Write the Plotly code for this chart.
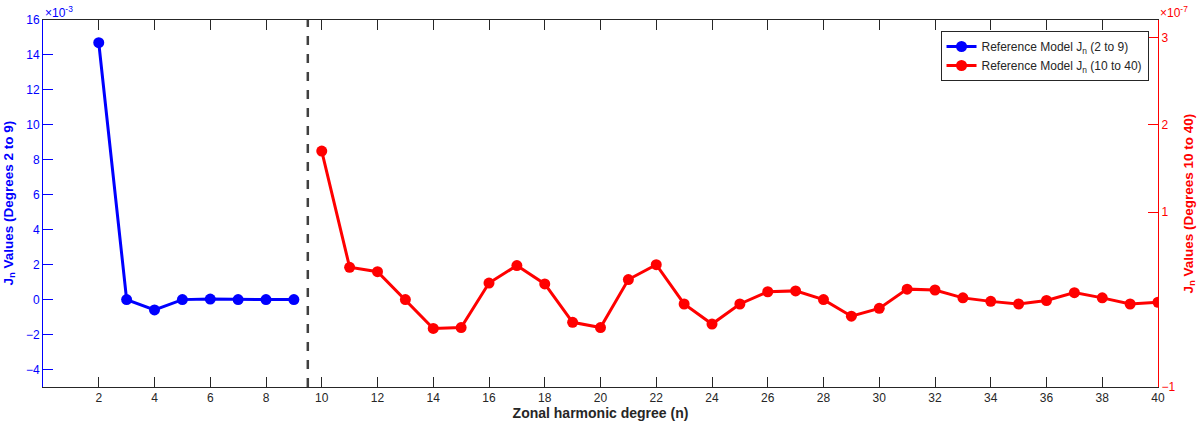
import plotly.graph_objects as go

# zonal harmonic degrees and coefficients
deg_low = [2, 3, 4, 5, 6, 7, 8, 9]
jn_low = [14.70, 0.0, -0.59, 0.0, 0.03, 0.0, 0.0, 0.0]  # x 1e-3

deg_high = list(range(10, 41))
jn_high = [1.70, 0.37, 0.32, 0.0, -0.33, -0.32, 0.19, 0.39, 0.18, -0.26,
           -0.32, 0.23, 0.40, -0.05, -0.28, -0.05, 0.09, 0.10, 0.0, -0.19,
           -0.10, 0.12, 0.11, 0.02, -0.02, -0.05, -0.01, 0.08, 0.02, -0.05,
           -0.03]  # x 1e-7

x_ticks = list(range(2, 41, 2))
left_ticks = list(range(-4, 17, 2))
right_ticks = [-1, 1, 2, 3]

BLUE = "#0000ff"
RED = "#ff0000"
GRAY = "#262626"
FONT = "Liberation Sans, Arial, sans-serif"

fig = go.Figure()

fig.add_trace(go.Scatter(
    x=deg_low, y=jn_low, mode="lines+markers",
    name="Reference Model J<sub>n</sub> (2 to 9)",
    line=dict(color=BLUE, width=3),
    marker=dict(color=BLUE, size=11),
    yaxis="y"
))

fig.add_trace(go.Scatter(
    x=deg_high, y=jn_high, mode="lines+markers",
    name="Reference Model J<sub>n</sub> (10 to 40)",
    line=dict(color=RED, width=3),
    marker=dict(color=RED, size=11),
    yaxis="y2"
))

# separator between the two degree ranges
fig.add_shape(type="line", x0=9.5, x1=9.5, y0=0, y1=1, xref="x", yref="paper",
              line=dict(color="#404040", width=2.5, dash="dash"))

# exponent labels
fig.add_annotation(text="×10<sup>-3</sup>", x=0, y=1, xref="paper", yref="paper",
                   xanchor="left", yanchor="bottom", showarrow=False, yshift=-2,
                   font=dict(color=BLUE, size=12, family=FONT))
fig.add_annotation(text="×10<sup>-7</sup>", x=1, y=1, xref="paper", yref="paper",
                   xanchor="left", yanchor="bottom", showarrow=False, yshift=-2,
                   font=dict(color=RED, size=12, family=FONT))

# y axis titles as annotations so they sit where matlab puts them
fig.add_annotation(text="<b>J<sub>n</sub> Values (Degrees 2 to 9)</b>",
                   x=0, y=0.5, xref="paper", yref="paper", xshift=-34,
                   xanchor="center", yanchor="middle",
                   showarrow=False, textangle=-90,
                   font=dict(color=BLUE, size=13.5, family=FONT))
fig.add_annotation(text="<b>J<sub>n</sub> Values (Degrees 10 to 40)</b>",
                   x=1, y=0.5, xref="paper", yref="paper", xshift=31,
                   xanchor="center", yanchor="middle",
                   showarrow=False, textangle=-90,
                   font=dict(color=RED, size=13.5, family=FONT))

fig.update_layout(
    width=1200, height=428,
    margin=dict(l=43, r=42, t=20, b=41),
    plot_bgcolor="white", paper_bgcolor="white",
    font=dict(family=FONT, size=12, color=GRAY),
    showlegend=True,
    legend=dict(x=0.9915, y=0.97, xanchor="right", yanchor="top",
                bgcolor="white", bordercolor=GRAY, borderwidth=1,
                font=dict(size=12, color=GRAY), tracegroupgap=0),
    xaxis=dict(
        range=[0, 40], tickvals=x_ticks, ticks="inside", ticklen=10,
        tickcolor=GRAY, showline=True, linecolor=GRAY, linewidth=1,
        mirror="ticks", showgrid=False, zeroline=False, automargin=False,
        tickfont=dict(color=GRAY, size=12),
        title=dict(text="<b>Zonal harmonic degree (n)</b>", standoff=2,
                   font=dict(size=14, color=GRAY))
    ),
    yaxis=dict(
        range=[-5, 16], tickvals=left_ticks, ticks="inside", ticklen=10,
        tickcolor=BLUE, showline=True, linecolor=BLUE, linewidth=1,
        showgrid=False, zeroline=False, automargin=False,
        tickfont=dict(color=BLUE, size=12)
    ),
    yaxis2=dict(
        range=[-1, 3.2], tickvals=right_ticks, ticks="inside", ticklen=10,
        tickcolor=RED, showline=True, linecolor=RED, linewidth=1,
        overlaying="y", side="right", showgrid=False, zeroline=False,
        automargin=False, tickfont=dict(color=RED, size=12)
    ),
)

# drop the default body margin so the figure sits at the page corner
fig.write_html("out.html", config={"displayModeBar": False},
               post_script="document.body.style.margin='0';")
